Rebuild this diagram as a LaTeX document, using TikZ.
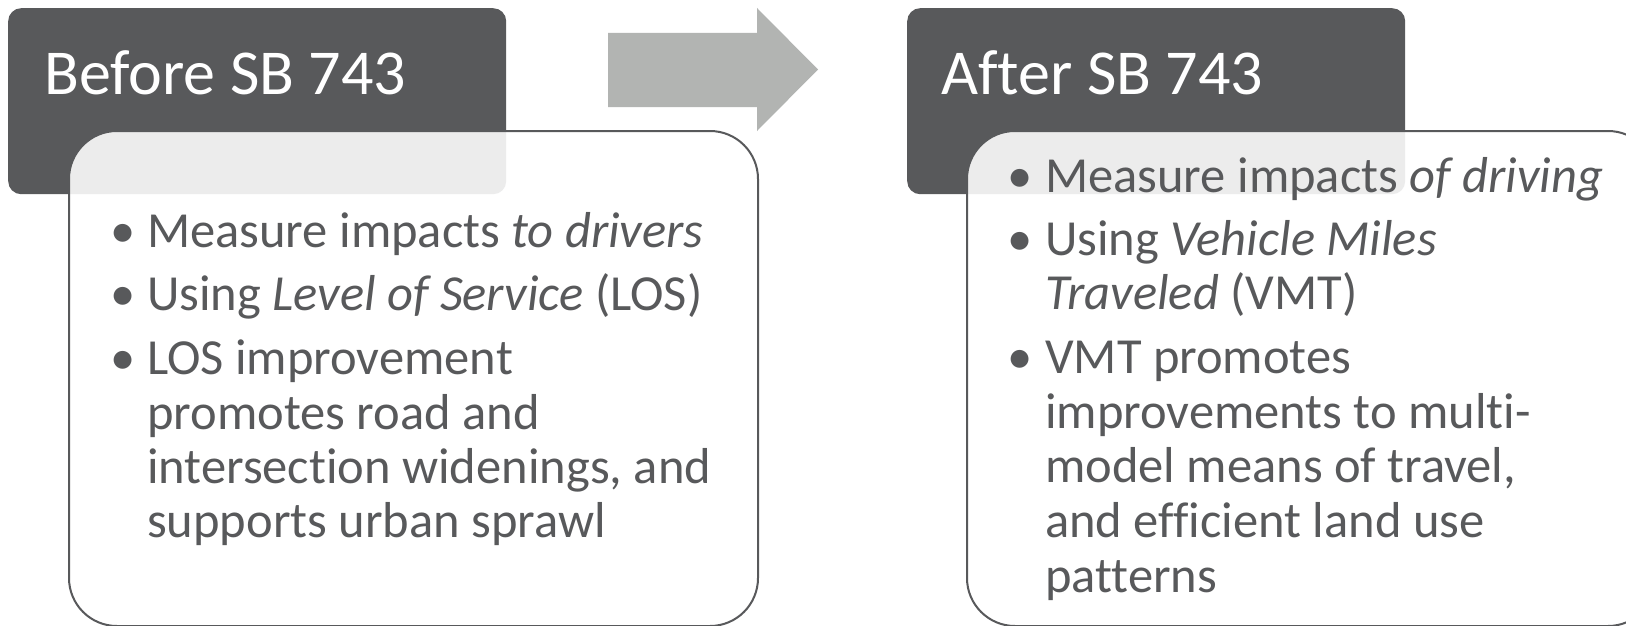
\documentclass[tikz,border=0pt]{standalone}
\usepackage{fontspec}
\setmainfont{Carlito}[Ligatures=CommonOff]
\definecolor{dark}{HTML}{58595B}
\definecolor{txt}{HTML}{58595B}
\definecolor{arrowgray}{HTML}{B2B4B2}
\tikzset{
  titlebox/.style={fill=dark, draw=none, rounded corners=13pt, anchor=north west,
    minimum width=498pt, minimum height=186pt, inner sep=0pt},
  contentbox/.style={fill=white, fill opacity=0.89, draw=dark, line width=2pt,
    rounded corners=48pt, anchor=north west, minimum width=689pt, minimum height=495pt, inner sep=0pt},
  titletext/.style={text=white, font=\fontsize{64}{76}\selectfont, anchor=base west, inner sep=0pt},
  bodytext/.style={text=txt, font=\fontsize{50.5}{60}\selectfont, anchor=base west, inner sep=0pt},
  bullet/.style={text=txt, font=\fontsize{50.5}{60}\selectfont, anchor=base west, inner sep=0pt},
  blockarrow/.style={fill=arrowgray, draw=none}
}
\begin{document}
\begin{tikzpicture}[x=1pt,y=-1pt]
\useasboundingbox (0,0) rectangle (1626,626);
\clip (0,0) rectangle (1626,626);
\fill[white] (0,0) rectangle (1626,626);

% title boxes
\node[titlebox] (tb1) at (8,8) {};
\node[titlebox] (tb2) at (907,8) {};

% arrow
\fill[blockarrow] (608,33) -- (757,33) -- (757,8) -- (818,69.5) -- (757,131) -- (757,107) -- (608,107) -- cycle;

% content boxes
\node[contentbox] (cb1) at (68,130) {};
\node[contentbox] (cb2) at (966,130) {};

% titles
\node[titletext] (t1) at (44,95) {Before SB 743};
\node[titletext] (t2) at (941,95) {After SB 743};

% left content
\node[bullet] (lb1) at (110,247) {•};
\node[bodytext] (l1) at (147,247) {Measure impacts \textit{to drivers}};
\node[bullet] (lb2) at (110,310) {•};
\node[bodytext] (l2) at (147,310) {Using \textit{Level of Service} (LOS)};
\node[bullet] (lb3) at (110,374) {•};
\node[bodytext] (l3) at (147,374) {LOS improvement};
\node[bodytext] (l4) at (147,429) {promotes road and};
\node[bodytext] (l5) at (147,483) {intersection widenings, and};
\node[bodytext] (l6) at (147,537) {supports urban sprawl};

% right content
\node[bullet] (rb1) at (1007,192) {•};
\node[bodytext] (r1) at (1045,192) {Measure impacts \textit{of driving}};
\node[bullet] (rb2) at (1007,255) {•};
\node[bodytext] (r2) at (1045,255) {Using \textit{Vehicle Miles}};
\node[bodytext] (r3) at (1045,309) {\textit{Traveled} (VMT)};
\node[bullet] (rb3) at (1007,373) {•};
\node[bodytext] (r4) at (1045,373) {VMT promotes};
\node[bodytext] (r5) at (1045,428) {improvements to multi-};
\node[bodytext] (r6) at (1045,482) {model means of travel,};
\node[bodytext] (r7) at (1045,537) {and efficient land use};
\node[bodytext] (r8) at (1045,592) {patterns};
\end{tikzpicture}
\end{document}
